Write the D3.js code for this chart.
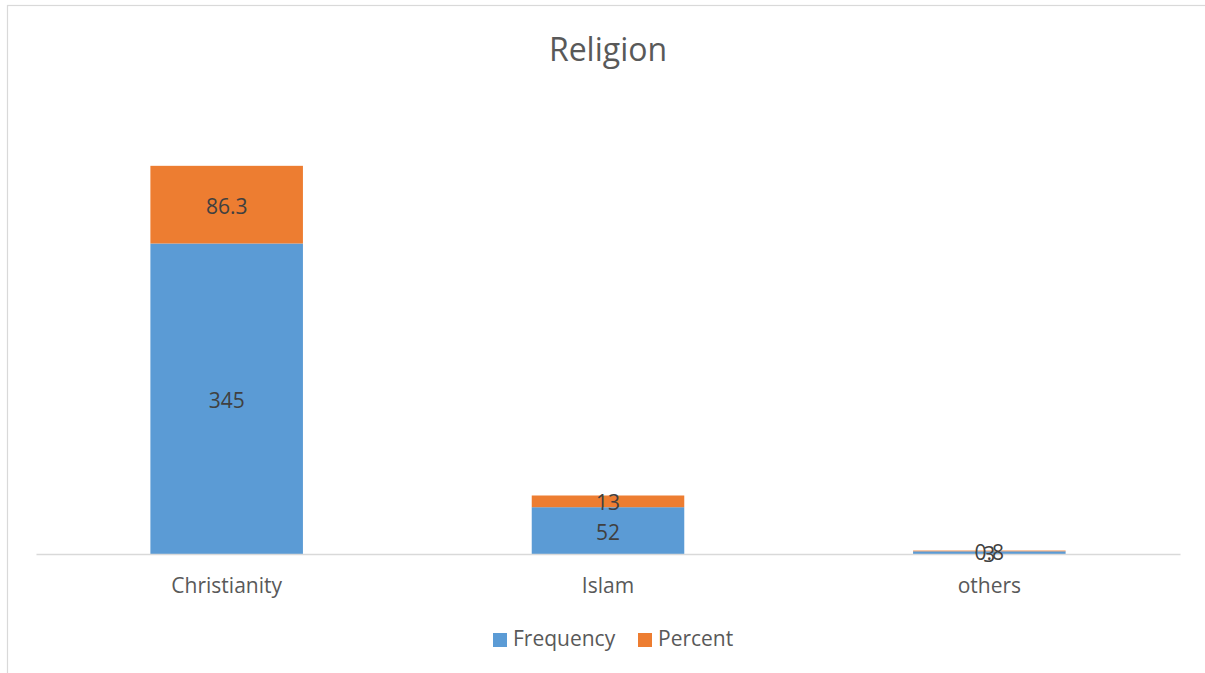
<!DOCTYPE html>
<html><head><meta charset="utf-8">
<script src="https://cdn.jsdelivr.net/npm/d3@7/dist/d3.min.js"></script>
<style>html,body{margin:0;padding:0;background:#fff;}svg{display:block;font-family:"Open Sans",sans-serif;}</style>
</head><body>
<script>
const title = "Religion";
const categories = ["Christianity", "Islam", "others"];
const seriesNames = ["Frequency", "Percent"];
const frequency = [345, 52, 3];
const percent = [86.3, 13, 0.8];
const colors = ["#5B9BD5", "#ED7D31"];

const W = 1205, H = 673;
const svg = d3.select("body").append("svg").attr("width", W).attr("height", H);

// chart area border (cropped)
svg.append("rect").attr("x", 7.5).attr("y", 5.5).attr("width", 1300).attr("height", 800)
  .attr("fill", "none").attr("stroke", "#D9D9D9").attr("stroke-width", 1.2);

const x = d3.scaleBand().domain(categories).range([36, 1180]).paddingInner(0.6).paddingOuter(0.3);
const y = d3.scaleLinear().domain([0, 500]).range([554, 104]);

const rows = categories.map((c, i) => ({cat: c, Frequency: frequency[i], Percent: percent[i]}));
const stacked = d3.stack().keys(seriesNames)(rows);

const layers = svg.append("g").selectAll("g").data(stacked).join("g")
  .attr("fill", (d, i) => colors[i]);
layers.selectAll("rect").data(d => d).join("rect")
  .attr("x", d => x(d.data.cat))
  .attr("width", x.bandwidth())
  .attr("y", d => y(d[1]))
  .attr("height", d => y(d[0]) - y(d[1]));

// axis baseline
const xAxis = svg.append("g").attr("transform", "translate(0,554)")
  .call(d3.axisBottom(x).tickSize(0).tickPadding(24));
xAxis.select(".domain").attr("stroke", "#D9D9D9").attr("stroke-width", 1.3);
xAxis.selectAll("text").attr("font-size", 21).attr("fill", "#595959")
  .attr("font-family", "Open Sans, sans-serif");

// data labels
const labels = svg.append("g");
stacked.forEach((layer, li) => {
  labels.selectAll(null).data(layer).join("text")
    .attr("x", d => x(d.data.cat) + x.bandwidth() / 2)
    .attr("y", d => (y(d[0]) + y(d[1])) / 2 + 9)
    .attr("text-anchor", "middle")
    .attr("font-size", 21)
    .attr("fill", "#404040")
    .text(d => d.data[seriesNames[li]]);
});

// title
svg.append("text").attr("x", 608).attr("y", 61).attr("text-anchor", "middle")
  .attr("font-size", 32).attr("fill", "#595959").text(title);

// legend
const legendX = [493, 638];
const lg = svg.append("g");
seriesNames.forEach((s, i) => {
  lg.append("rect").attr("x", legendX[i]).attr("y", 633).attr("width", 14).attr("height", 14).attr("fill", colors[i]);
  lg.append("text").attr("x", legendX[i] + 20).attr("y", 646).attr("font-size", 21).attr("fill", "#595959").text(s);
});
</script>
</body></html>
